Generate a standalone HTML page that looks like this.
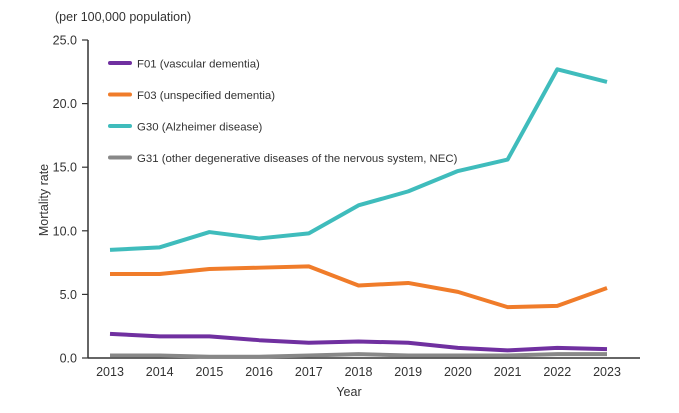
<!DOCTYPE html>
<html><head><meta charset="utf-8"><style>
body{margin:0;background:#fff;}
svg text{font-family:"Liberation Sans",sans-serif;fill:#333;}
</style></head><body>
<svg width="679" height="408" viewBox="0 0 679 408">
<text x="55" y="21" font-size="12.5">(per 100,000 population)</text>
<text transform="translate(48,200) rotate(-90)" text-anchor="middle" font-size="12.5">Mortality rate</text>
<text x="349" y="396" text-anchor="middle" font-size="12.5">Year</text>
<g id="axes"></g>
<g id="series"></g>
<g id="legend"></g>
</svg>
<script>
const years=[2013,2014,2015,2016,2017,2018,2019,2020,2021,2022,2023];
const yTicks=[0,5,10,15,20,25];
const f01=[1.9,1.7,1.7,1.4,1.2,1.3,1.2,0.8,0.6,0.8,0.7];
const f03=[6.6,6.6,7.0,7.1,7.2,5.7,5.9,5.2,4.0,4.1,5.5];
const g30=[8.5,8.7,9.9,9.4,9.8,12.0,13.1,14.7,15.6,22.7,21.7];
const g31=[0.2,0.2,0.1,0.1,0.2,0.3,0.2,0.2,0.2,0.3,0.3];
const names=["F01 (vascular dementia)","F03 (unspecified dementia)","G30 (Alzheimer disease)","G31 (other degenerative diseases of the nervous system, NEC)"];
const NS="http://www.w3.org/2000/svg";
const x=i=>110+i*49.7;
const y=v=>358-v*12.72;
function mk(t,a,p){const e=document.createElementNS(NS,t);for(const k in a)e.setAttribute(k,a[k]);p.appendChild(e);return e;}
const ax=document.getElementById('axes');
let l=mk('line',{x1:88,y1:40,x2:88,y2:358,stroke:'#333','stroke-width':1.5},ax);


l=mk('line',{x1:88,y1:358,x2:640,y2:358,stroke:'#333','stroke-width':1.5},ax);


yTicks.forEach(v=>{
 const t=mk('line',{x1:82,y1:y(v),x2:88,y2:y(v),stroke:'#333','stroke-width':1.2},ax);
 
 
 const tx=mk('text',{x:77,y:y(v)+4.5,'text-anchor':'end','font-size':12.5},ax);tx.textContent=v.toFixed(1);
 
 
});
years.forEach((yr,i)=>{
 const tx=mk('text',{x:x(i),y:376,'text-anchor':'middle','font-size':12.5},ax);tx.textContent=yr;
 
 
});
const series=[[f01,'#7030a0','f01'],[f03,'#f07c2a','f03'],[g30,'#3fbcbc','g30'],[g31,'#888888','g31']];
const sg=document.getElementById('series'),lg=document.getElementById('legend');
[3,0,1,2].forEach(k=>{
 const [d,c,n]=series[k];
 const p=mk('polyline',{points:d.map((v,i)=>x(i)+','+y(v)).join(' '),fill:'none',stroke:c,'stroke-width':4,'stroke-linejoin':'round'},sg);
 
 
});
series.forEach(([d,c,n],k)=>{
 const ly=63+k*31.5;
 const g=mk('g',{},lg);
 
 
 mk('line',{x1:110,y1:ly,x2:130,y2:ly,stroke:c,'stroke-width':4,'stroke-linecap':'round'},g);
 const t=mk('text',{x:137,y:ly+4.5,'font-size':11.4},g);t.textContent=names[k];
});
</script>
</body></html>
